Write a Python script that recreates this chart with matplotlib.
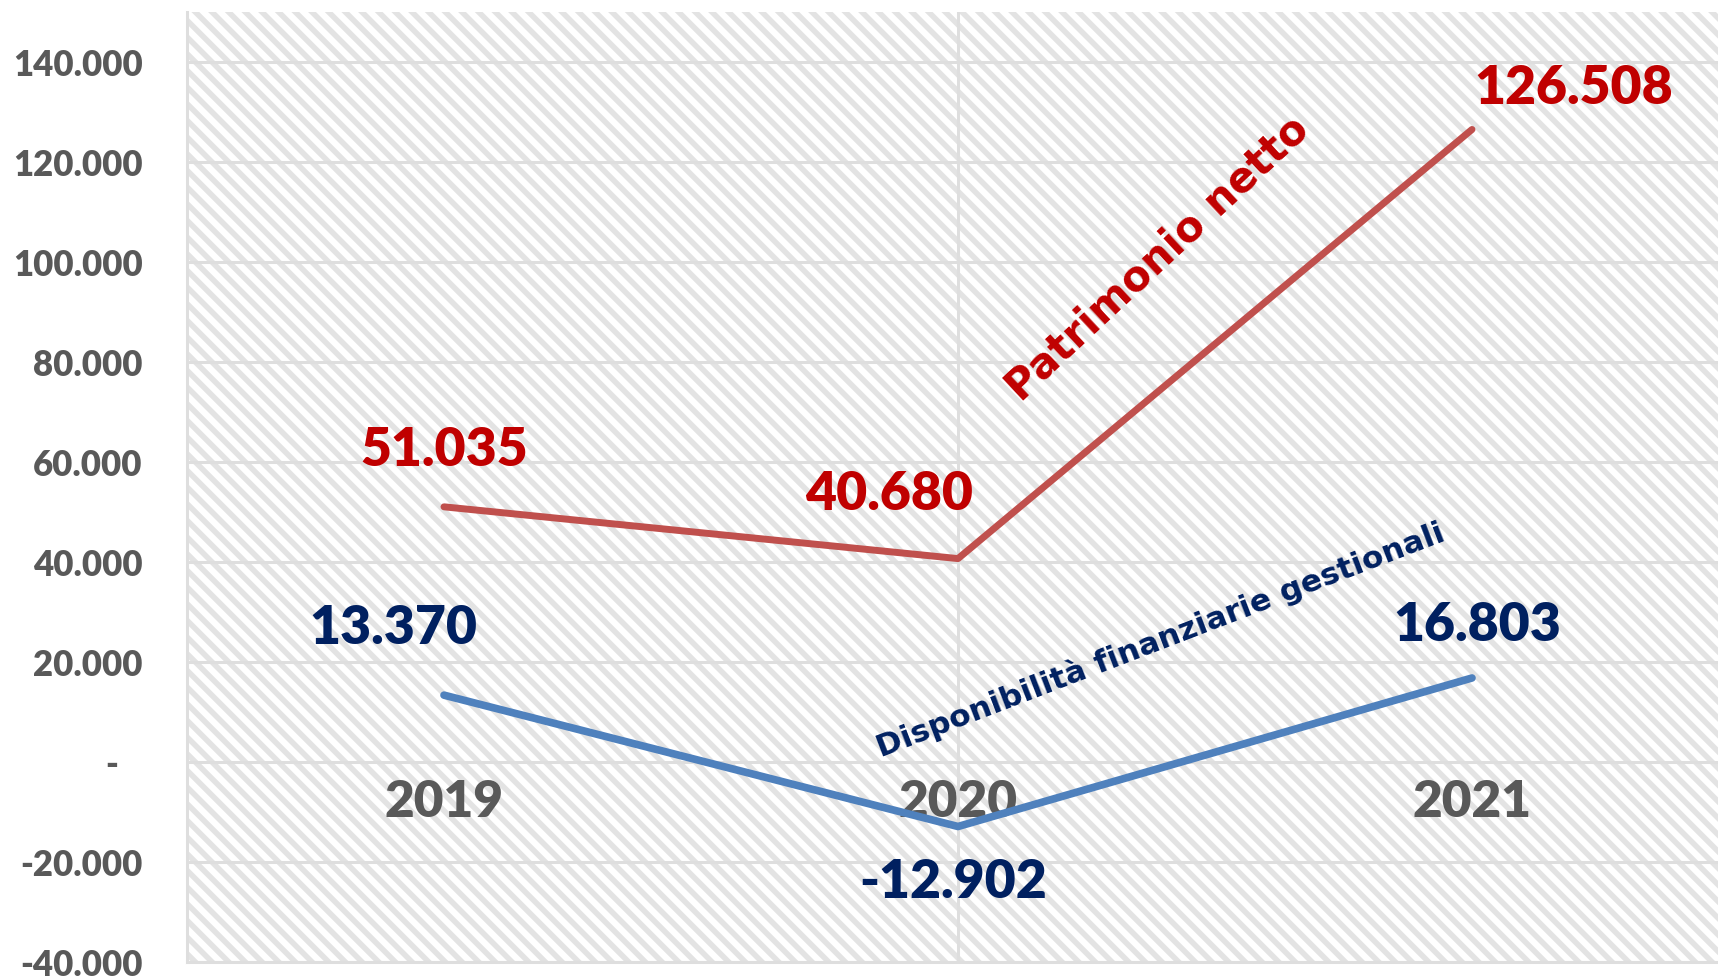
import matplotlib
matplotlib.use("Agg")
from matplotlib import pyplot as plt
from matplotlib.patches import Rectangle
from matplotlib.ticker import FuncFormatter

years = ["2019", "2020", "2021"]
patrimonio = [51035, 40680, 126508]
disponibilita = [13370, -12902, 16803]

# label offsets (pixels) of the value labels from their points
pat_offsets = [(0, 41), (-69, 49), (102, 25)]
disp_offsets = [(-51, 51), (-5, -71), (5, 37)]

RED_LINE = "#C0504D"
BLUE_LINE = "#4F81BD"
RED_TXT = "#C00000"
BLUE_TXT = "#002060"
GREY_TXT = "#595959"
GRID = "#dedede"

plt.rcParams["hatch.linewidth"] = 4.0

fig = plt.figure(figsize=(17.18, 9.8), dpi=100)
ax = fig.add_axes([187 / 1718, 18 / 980, 1542 / 1718, 950 / 980])

# hatched background of the plot area
bg = Rectangle((0, 0), 1, 1, transform=ax.transAxes, facecolor="white",
               edgecolor="#e3e3e3", linewidth=0, hatch="\\\\", zorder=0)
ax.add_patch(bg)

x = list(range(len(years)))
ax.set_xlim(-0.5, 2.5)
ax.set_ylim(-40000, 150000)

ax.set_yticks(range(-40000, 140001, 20000))
ax.yaxis.set_major_formatter(FuncFormatter(
    lambda v, p: "-   " if v == 0 else f"{v:,.0f}".replace(",", ".")))
ax.tick_params(axis="y", length=0, pad=32, labelsize=25, labelcolor=GREY_TXT)
for lab in ax.get_yticklabels():
    lab.set_fontfamily("Lato")
    lab.set_fontweight("heavy")
ax.set_xticks([])

ax.grid(axis="y", color=GRID, linewidth=2.2, zorder=1)
ax.axvline(1, color=GRID, linewidth=2.2, zorder=1)
for s in ["top", "right"]:
    ax.spines[s].set_visible(False)
for s in ["left", "bottom"]:
    ax.spines[s].set_color(GRID)
    ax.spines[s].set_linewidth(2.2)

ax.plot(x, patrimonio, color=RED_LINE, linewidth=5, solid_capstyle="round", zorder=3)
ax.plot(x, disponibilita, color=BLUE_LINE, linewidth=5.5, solid_capstyle="round", zorder=3)

def fmt(v):
    return f"{v:,.0f}".replace(",", ".")

for i, v in enumerate(patrimonio):
    ax.annotate(fmt(v), (x[i], v), xytext=pat_offsets[i], textcoords="offset pixels",
                ha="center", va="baseline", fontsize=38.5, fontweight="heavy",
                family="Lato", color=RED_TXT, zorder=4)
for i, v in enumerate(disponibilita):
    ax.annotate(fmt(v), (x[i], v), xytext=disp_offsets[i], textcoords="offset pixels",
                ha="center", va="baseline", fontsize=38.5, fontweight="heavy",
                family="Lato", color=BLUE_TXT, zorder=4)

# category labels drawn inside the plot, just under the zero line
for i, yr in enumerate(years):
    ax.annotate(yr, (x[i], 0), xytext=(0, -55), textcoords="offset pixels",
                ha="center", va="baseline", fontsize=37, fontweight="heavy",
                family="Lato", color=GREY_TXT, zorder=2)

# series names along the lines
fig.text(1158 / 1718, 1 - 258 / 980, "Patrimonio netto", rotation=43,
         ha="center", va="center", rotation_mode="anchor", fontsize=30,
         fontweight="bold", family="DejaVu Sans", color=RED_TXT)
fig.text(1160 / 1718, 1 - 640 / 980, "Disponibilità finanziarie gestionali", rotation=21,
         ha="center", va="center", rotation_mode="anchor", fontsize=22.5,
         fontweight="bold", family="DejaVu Sans", color=BLUE_TXT)

fig.savefig("out.png", dpi=100)
